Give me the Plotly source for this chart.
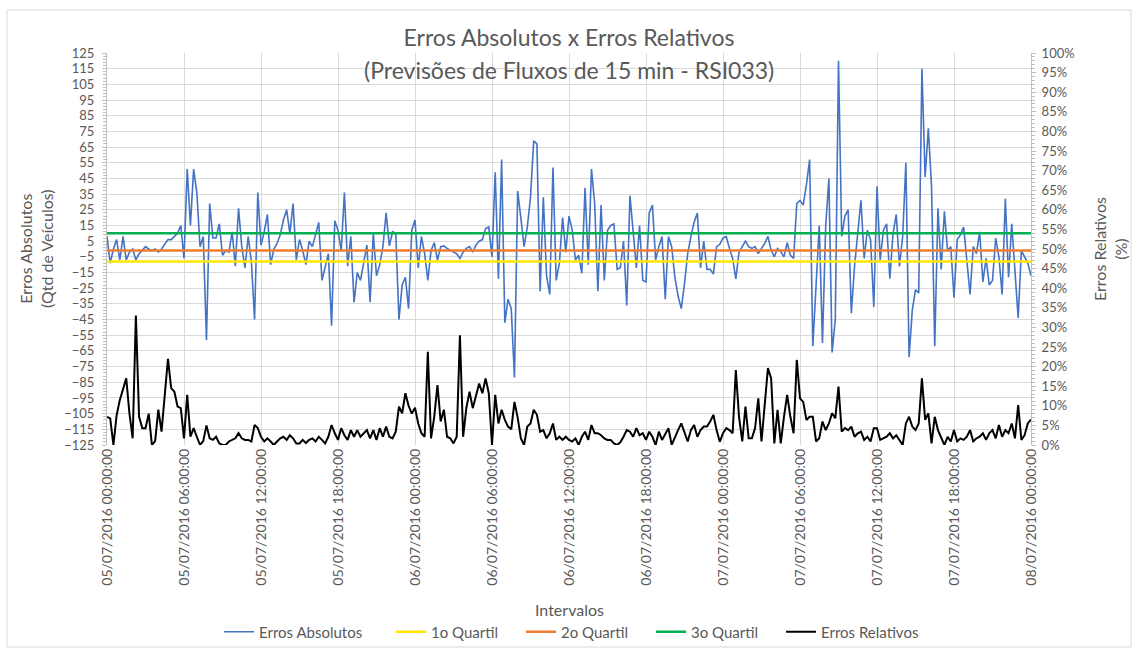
import pandas as pd
import plotly.graph_objects as go

# ---------------- data ----------------
intervalos = pd.date_range("2016-07-05 00:00:00", "2016-07-08 00:00:00", freq="15min")

erros_absolutos = [
    8, -9, 0, 6, -7, 8, -7, -2, 0, -7, -3, -1, 1.5, 0, -1, 0, -2, 0, 3, 6,
    6, 8, 10, 15, -6, 51, 15, 51, 36, 1.5, 8, -58, 29, 7, 7, 16, -4, -1, -2, 11,
    -11, 26, 1.5, -12, 8, -8, -45, 36, 2.5, 11, 22, -10, 0, 3.6, 9, 18.5, 25, 10, 29, -7,
    6, -1, -10, 5, 1.5, 9, 17, -20, -12, -3, -49, 18, 12, -1, 36, -11, 8, -34, -15, -20,
    -9, 2.5, -34, 10, -17, -10, 1.5, 23, 2, 11, 10, -45, -23, -18, -38, 12, 18.5, -12, 8, -3,
    -20, -1, 4, -7, 1.5, 2, 0.4, -1, -2, -3, -6, -2, 0.4, 1.5, -2, 2.5, 5, 6, 13, 14,
    -5, 49, -19, 57, -47, -32, -38, -82, 37, 19.5, 1.5, 14, 33, 69, 67, -27, 33, -17, -29, 52,
    -20, -9, 20, -2, 21, 12, -7, -4, -15.5, 39, -10, 51, 29, -27, 28, -20, 12, 15, 16, -13,
    -12, 5, -36, 34, 12, -12, 15, -20, -21, 23, 28, -7, 1.5, 8, -32, 8, 1.5, -18, -30, -38,
    -22, -3, 8, 17, 23, -12, 5, -13, -13, -16, 1.5, 3, 7, 8, 0.4, -6, -19, -2, 1.5, 5,
    1.5, 0.4, 1.5, -3, 0.4, 3.6, 8, -0.7, -5, 0.4, -1.7, -5, 4, -4, -6, 29, 31, 28, 41, 57,
    -62, -25, 15, -60, 14, 45, -66, -45, 120, 8, 21, 25, -41, -11, 8, 31, -6, 12, 6, -37,
    40, -7, 12, 16, -19, 10, 22, -11, 8, 55, -69, -39, -26, -28, 115, 46, 77, 40, -62, 26,
    -13, 24, -1, 1.5, -31, 6, 9, 14, -7, -29, 1.5, -3, 11, -21, -6, -23, -20, 7, -5, -29,
    32, -18, 16, -11, -44, -1, -5, -9, -17,
]

erros_relativos_pct = [
    7.2, 6.8, 0, 7.6, 11.5, 14, 17, 8, 1.7, 33, 7.2, 4.3, 4.3, 8, 0, 1, 9, 3.4, 12.3, 22,
    14.5, 13.6, 9.8, 9.4, 1.7, 12.8, 2.1, 4.3, 2.1, 0, 1, 5, 1.7, 1.3, 2.1, 0.4, 0, 0, 0.9, 1.3,
    1.7, 3, 1.7, 1.3, 1.3, 0.9, 5.1, 4.3, 2.1, 0.9, 1.7, 0.9, 0, 0.9, 1.7, 2.1, 1.3, 2.5, 1.7, 0.4,
    0.4, 1.3, 0.5, 1.3, 1.7, 0.9, 2.1, 1.3, 0.4, 2.1, 5.1, 3, 1.3, 4.3, 2.5, 1.3, 3.8, 2.1, 3.8, 2.1,
    3, 3.8, 1.7, 3.8, 1.3, 4.3, 2.1, 4.7, 2.1, 1.7, 3.4, 9.8, 8.1, 13.2, 10, 8, 9.5, 5.5, 3, 2.1,
    23.8, 1.7, 7.2, 15.3, 6, 9, 2.1, 1.7, 0.4, 2.1, 28, 2.1, 9.4, 13.6, 9.4, 12.8, 15.7, 13.2, 17, 13.2,
    0, 12.8, 5.5, 9, 6.4, 4.7, 4, 11, 7, 1.7, 0, 4.7, 5.5, 9, 7.7, 3.4, 3.8, 1.7, 3, 5.5,
    1.3, 2.1, 1.3, 2.1, 1.3, 0.9, 1.7, 0, 2.1, 3.4, 1.3, 5.1, 3, 3, 2.5, 1.7, 1.3, 1.3, 0.4, 0,
    0.7, 2.1, 3.8, 3.4, 2.1, 4.3, 2.5, 3, 1.3, 3.4, 2.1, 0, 3.4, 1.3, 3, 4.3, 0, 2.1, 3.8, 5.5,
    3, 0.9, 3.8, 5.1, 2.1, 3.8, 4.7, 4.7, 6, 7.7, 3.8, 0.8, 3, 4.3, 3.8, 3, 19.1, 7.2, 0.9, 9.8,
    1.7, 1.7, 4.3, 11.9, 0.9, 10.6, 19.6, 17, 0.4, 9, 0.4, 7.2, 12.8, 7.2, 3, 21.7, 11.9, 11, 6.4, 7.2,
    7.2, 0.9, 1.7, 6, 3.8, 5.5, 8.1, 6.8, 14.9, 3.4, 4.3, 3.8, 4.7, 2.1, 3, 3.4, 1.3, 2.1, 0.9, 4.3,
    4.3, 1.3, 1.7, 2.1, 3, 1.7, 2.5, 1.3, 0, 5.5, 7.2, 4.7, 3.8, 5.5, 17, 6.4, 8.1, 0.4, 7.2, 3.8,
    2.1, 0, 2.1, 0.9, 3.8, 0.9, 1.7, 1.3, 2.1, 3.8, 0.9, 1.7, 2.1, 3, 1.3, 3, 3.8, 1.7, 5.1, 2.1,
    3.8, 3, 5.5, 1.7, 10.2, 1.3, 2.5, 5.5, 6.5,
]
erros_relativos = [v / 100 for v in erros_relativos_pct]

quartil_1 = -8
quartil_2 = -1
quartil_3 = 10

title_l1 = "Erros Absolutos x Erros Relativos"
title_l2 = "(Previsões de Fluxos de 15 min - RSI033)"

# ---------------- styling ----------------
FONT = "Lato, Carlito, 'Liberation Sans', sans-serif"
GREY = "#595959"
GRID = "#d9d9d9"
W, H = 1132, 648
L, R, T, B = 107, 101, 53, 203
PW, PH = W - L - R, H - T - B


def px_x(px):
    return (px - L) / PW


def px_y(py):
    return (H - B - py) / PH


n = len(intervalos)
fig = go.Figure()

fig.add_trace(go.Scatter(x=intervalos, y=erros_absolutos, mode="lines", legendwidth=127,
                         name="Erros Absolutos", line=dict(color="#4472C4", width=1.6)))
fig.add_trace(go.Scatter(x=intervalos, y=[quartil_1] * n, mode="lines", legendwidth=85,
                         name="1o Quartil", line=dict(color="#FFE600", width=2.5)))
fig.add_trace(go.Scatter(x=intervalos, y=[quartil_2] * n, mode="lines", legendwidth=85,
                         name="2o Quartil", line=dict(color="#ED7D31", width=2.5)))
fig.add_trace(go.Scatter(x=intervalos, y=[quartil_3] * n, mode="lines", legendwidth=85,
                         name="3o Quartil", line=dict(color="#00B050", width=2.5)))
fig.add_trace(go.Scatter(x=intervalos, y=erros_relativos, mode="lines", yaxis="y2", legendwidth=100,
                         name="Erros Relativos", line=dict(color="#000000", width=2)))

x_start, x_end = intervalos[0], intervalos[-1]

fig.update_layout(
    width=W, height=H,
    paper_bgcolor="white", plot_bgcolor="white",
    margin=dict(l=L, r=R, t=T, b=B, autoexpand=False),
    font=dict(family=FONT, color=GREY, size=13),
    showlegend=True,
    legend=dict(orientation="h", x=px_x(219), xanchor="left",
                yref="container", y=1 - 632 / H, yanchor="middle",
                font=dict(size=15, color=GREY), itemwidth=30,
                bgcolor="rgba(0,0,0,0)", traceorder="normal"),
    xaxis=dict(
        type="date", range=[x_start, x_end],
        tick0=x_start, dtick=6 * 3600 * 1000,
        tickformat="%d/%m/%Y %H:%M:%S", tickangle=-90,
        showgrid=True, gridcolor=GRID, gridwidth=1,
        showline=False, zeroline=False, ticks="",
        tickfont=dict(size=14, color=GREY),
    ),
    yaxis=dict(
        range=[-125, 125], tick0=-125, dtick=10,
        showgrid=True, gridcolor=GRID, gridwidth=1, zeroline=False,
        showline=True, linecolor="#bfbfbf", ticks="outside", ticklen=4, tickcolor="#bfbfbf",
        ticklabelstandoff=5,
        minor=dict(ticks="outside", ticklen=3, dtick=2, tick0=-125, tickcolor="#bfbfbf", showgrid=False),
        tickfont=dict(size=13, color=GREY),
    ),
    yaxis2=dict(
        range=[0, 1], tick0=0, dtick=0.05, tickformat=".0%",
        overlaying="y", side="right", showgrid=False, zeroline=False,
        showline=True, linecolor="#bfbfbf", ticks="outside", ticklen=4, tickcolor="#bfbfbf",
        ticklabelstandoff=3,
        minor=dict(ticks="outside", ticklen=3, dtick=0.01, tickcolor="#bfbfbf", showgrid=False),
        tickfont=dict(size=13, color=GREY),
    ),
    title=dict(
        text=title_l1,
        x=0.5, xanchor="center", xref="paper",
        yref="container", y=1 - 38 / H, yanchor="middle",
        font=dict(size=23, color=GREY, family=FONT),
    ),
    annotations=[
        dict(text=title_l2, x=0.5, y=px_y(70), xref="paper", yref="paper",
             showarrow=False, font=dict(size=23, color=GREY), xanchor="center", yanchor="middle"),
        dict(text="Intervalos", x=0.5, y=px_y(609), xref="paper", yref="paper",
             showarrow=False, font=dict(size=16, color=GREY), xanchor="center", yanchor="middle"),
        dict(text="Erros Absolutos<br>(Qtd de Veículos)", x=px_x(36), y=0.5, xref="paper", yref="paper",
             textangle=-90, showarrow=False, font=dict(size=16, color=GREY),
             xanchor="center", yanchor="middle"),
        dict(text="Erros Relativos<br>(%)", x=px_x(1110), y=0.5, xref="paper", yref="paper",
             textangle=-90, showarrow=False, font=dict(size=16, color=GREY),
             xanchor="center", yanchor="middle"),
    ],
    shapes=[
        dict(type="rect", xref="paper", yref="paper",
             x0=px_x(7), x1=px_x(1131), y0=px_y(647), y1=px_y(10),
             line=dict(color="#d9d9d9", width=1), fillcolor="rgba(0,0,0,0)", layer="below"),
    ],
)

fig.write_html("out.html", config={"displayModeBar": False},
               post_script="document.body.style.margin='0px';")
